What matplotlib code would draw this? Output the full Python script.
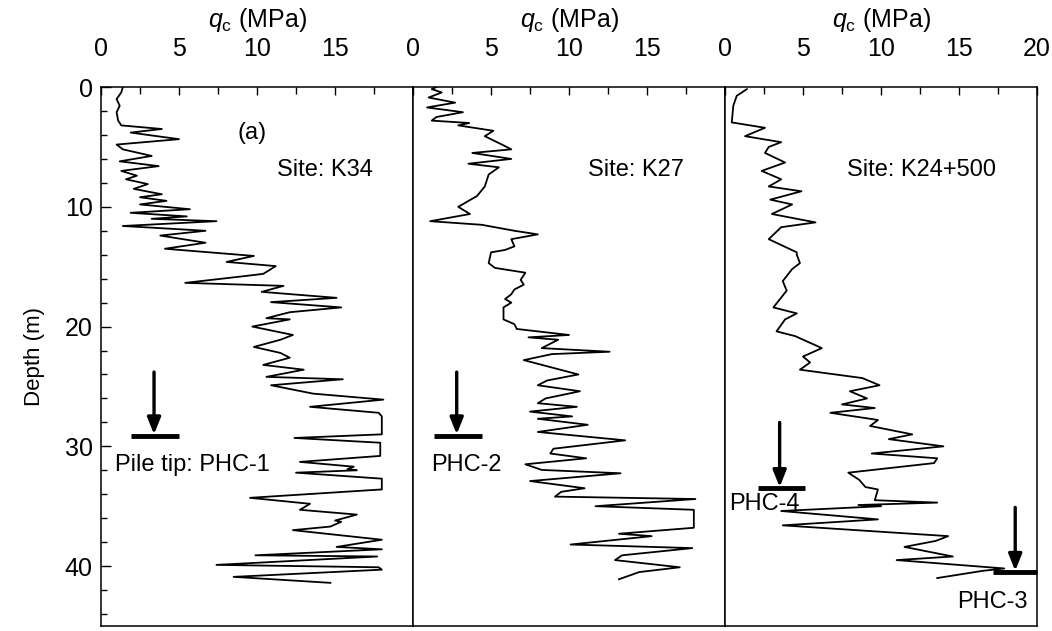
import matplotlib.pyplot as plt
from matplotlib.ticker import MultipleLocator

plt.rcParams['font.family'] = ['Liberation Sans', 'DejaVu Sans']
plt.rcParams['mathtext.fontset'] = 'custom'
plt.rcParams['mathtext.rm'] = 'Liberation Sans'
plt.rcParams['mathtext.it'] = 'Liberation Sans:italic'

# CPT profiles: depth (m) and cone resistance qc (MPa)
k34_depth = [0.0, 0.45, 1.0, 1.56, 2.1, 2.8, 3.2, 3.5, 3.8, 4.35, 4.8, 5.2, 5.75, 6.2, 6.6, 7.0, 7.4, 7.7,
             8.1, 8.5, 8.95, 9.2, 9.5, 9.8, 10.2, 10.5, 10.8, 11.0, 11.2, 11.6, 12.0, 12.4, 13.0, 13.5,
             14.1, 14.6, 14.95, 15.6, 15.8, 16.35, 16.6, 17.1, 17.6, 17.96, 18.4, 18.8, 19.3, 19.4, 20.0,
             20.7, 21.1, 21.7, 22.2, 22.6, 23.2, 23.6, 24.2, 24.4, 24.9, 25.6, 26.1, 26.7, 27.2, 27.5,
             29.0, 29.3, 29.7, 30.8, 31.3, 31.7, 31.9, 32.0, 32.2, 32.7, 33.6, 34.3, 34.8, 35.3, 35.7,
             36.2, 36.3, 36.7, 37.0, 37.8, 38.4, 38.6, 39.1, 39.2, 39.9, 40.1, 40.3, 40.9, 41.4]
k34_qc = [1.4, 1.3, 1.0, 1.2, 1.0, 1.1, 1.3, 3.9, 1.9, 5.0, 1.0, 1.4, 3.25, 1.2, 3.7, 1.3, 2.3, 1.6,
          3.0, 2.1, 3.9, 2.5, 4.2, 2.5, 5.7, 1.9, 5.5, 3.25, 7.4, 1.4, 6.7, 3.8, 6.7, 4.1,
          9.8, 8.05, 11.2, 10.4, 9.1, 5.4, 11.7, 10.3, 15.1, 10.9, 15.4, 12.1, 10.6, 12.1, 9.7,
          12.3, 11.5, 9.8, 11.5, 12.1, 10.4, 13.0, 10.6, 15.5, 10.9, 13.6, 18.1, 13.4, 17.8, 18.0,
          18.0, 12.4, 17.9, 17.9, 12.75, 16.2, 15.8, 16.4, 12.5, 18.0, 18.0, 9.55, 13.4, 12.75, 16.4,
          15.0, 15.4, 14.7, 12.3, 18.0, 15.1, 18.0, 9.9, 17.7, 7.4, 17.8, 18.0, 8.5, 14.7]

k27_depth = [0.0, 0.17, 0.45, 0.87, 1.3, 1.7, 2.1, 2.5, 2.8, 3.0, 3.2, 3.65, 4.1, 4.8, 5.2, 5.5, 6.0,
             6.4, 6.7, 7.3, 8.3, 9.1, 10.0, 10.6, 11.2, 11.5, 12.0, 12.3, 12.7, 13.3, 13.6, 13.8, 14.7,
             15.1, 15.5, 16.1, 16.5, 16.9, 17.3, 17.7, 18.0, 18.4, 19.4, 19.8, 20.2, 20.7, 20.9, 21.1,
             21.8, 22.1, 22.3, 22.8, 24.0, 24.5, 24.9, 25.4, 26.0, 26.4, 26.7, 27.1, 27.5, 27.7, 28.2,
             28.8, 29.5, 30.2, 30.6, 31.0, 31.5, 31.97, 32.25, 32.9, 33.5, 33.8, 34.2, 34.4, 35.0,
             35.3, 36.8, 37.3, 37.5, 38.2, 38.5, 39.1, 39.5, 40.1, 40.5, 41.1]
k27_qc = [1.5, 1.2, 1.84, 1.0, 2.7, 0.9, 3.2, 1.5, 1.2, 3.6, 2.9, 5.15, 4.6, 5.7, 6.3, 3.8, 6.3,
          3.55, 5.5, 4.85, 4.6, 4.1, 2.9, 3.65, 1.1, 4.4, 6.5, 8.0, 6.3, 6.5, 5.9, 5.0, 4.85,
          5.25, 7.2, 6.9, 7.1, 6.5, 6.3, 5.9, 6.3, 5.8, 5.8, 6.5, 6.65, 10.0, 7.4, 9.3,
          8.25, 12.6, 8.9, 7.1, 10.6, 8.6, 8.0, 10.7, 8.5, 8.0, 10.5, 7.5, 10.2, 8.0, 11.2,
          8.0, 13.6, 9.0, 8.8, 11.1, 7.2, 8.25, 13.3, 7.5, 11.0, 9.5, 9.1, 18.1, 11.7,
          18.0, 18.0, 13.2, 15.3, 10.1, 17.9, 13.4, 12.95, 17.1, 14.5, 13.2]

k24_depth = [0.17, 0.73, 1.56, 2.95, 3.4, 4.1, 4.6, 5.0, 5.5, 6.3, 7.0, 7.7, 8.3, 8.7, 9.4, 9.8, 10.6,
             11.3, 11.7, 12.7, 13.8, 14.0, 14.7, 15.2, 16.2, 17.0, 18.4, 18.9, 19.4, 20.4, 20.8, 21.8,
             22.5, 23.0, 23.6, 24.3, 24.9, 25.4, 26.0, 26.5, 26.8, 27.2, 27.8, 28.3, 29.0, 29.4, 30.0,
             30.6, 31.0, 31.4, 32.2, 32.8, 33.4, 33.6, 34.5, 34.7, 34.9, 35.0, 35.4, 36.1, 36.6, 37.5,
             37.9, 38.4, 39.2, 39.5, 40.2, 40.4, 41.0]
k24_qc = [1.4, 0.75, 0.53, 0.43, 2.56, 1.28, 3.6, 2.8, 2.56, 3.85, 2.35, 3.6, 2.8, 4.9, 2.9, 4.3, 3.0,
          5.8, 3.6, 2.8, 4.6, 4.6, 4.8, 4.3, 3.7, 3.95, 3.1, 4.6, 3.85, 3.3, 4.5, 6.2,
          5.0, 5.45, 4.8, 8.8, 9.9, 8.0, 9.1, 7.5, 9.6, 6.75, 9.8, 9.3, 12.0, 10.5, 14.0,
          9.4, 13.6, 13.4, 7.9, 8.6, 9.0, 9.8, 9.6, 13.6, 8.55, 10.0, 3.6, 9.8, 3.7, 14.3,
          13.5, 11.5, 14.6, 11.0, 17.9, 16.5, 13.6]

sites = ['Site: K34', 'Site: K27', 'Site: K24+500']
profiles = [(k34_depth, k34_qc), (k27_depth, k27_qc), (k24_depth, k24_qc)]

# pile tips: (panel, arrow x, arrow top, tip depth, bar from, bar to, label, label x, label depth, align)
piles = [
    (0, 3.4, 23.8, 29.1, 1.9, 5.0, 'Pile tip: PHC-1', 0.9, 31.6, 'left'),
    (1, 2.8, 23.8, 29.1, 1.35, 4.4, 'PHC-2', 1.15, 31.6, 'left'),
    (2, 3.5, 28.0, 33.5, 2.1, 5.1, 'PHC-4', 0.25, 34.8, 'left'),
    (2, 18.6, 35.1, 40.5, 17.2, 20.0, 'PHC-3', 19.4, 43.0, 'right'),
]

fig = plt.figure(figsize=(10.52, 6.31), dpi=100)
w = 0.2966
axes = [fig.add_axes([0.096 + i * w, 0.008, w, 0.854]) for i in range(3)]

for i, ax in enumerate(axes):
    d, q = profiles[i]
    ax.plot(q, d, color='black', lw=1.3)
    ax.set_xlim(0, 20)
    ax.set_ylim(45, 0)
    ax.xaxis.tick_top()
    ax.xaxis.set_label_position('top')
    ax.set_xticks([0, 5, 10, 15, 20] if i == 2 else [0, 5, 10, 15])
    ax.xaxis.set_minor_locator(MultipleLocator(2.5))
    ax.set_xlabel(r'$q_{\rm c}$ (MPa)', fontsize=18, labelpad=7)
    ax.tick_params(axis='x', which='both', direction='in', labelsize=18, pad=19)
    ax.tick_params(axis='x', which='major', length=6, width=1.0)
    ax.tick_params(axis='x', which='minor', length=5, width=1.0)
    for s in ax.spines.values():
        s.set_linewidth(1.1)
    if i == 0:
        ax.set_yticks([0, 10, 20, 30, 40])
        ax.yaxis.set_minor_locator(MultipleLocator(2))
        ax.tick_params(axis='y', which='both', direction='in', labelsize=18, pad=6)
        ax.tick_params(axis='y', which='major', length=7, width=1.0)
        ax.tick_params(axis='y', which='minor', length=4, width=1.0)
        ax.set_ylabel('Depth (m)', fontsize=16, labelpad=14)
    else:
        ax.set_yticks([])
    ax.text(17.4, 6.9, sites[i], fontsize=17, ha='right', va='center')

axes[0].text(9.7, 3.8, '(a)', fontsize=17, ha='center', va='center')

for k, xa, top, tip, b0, b1, label, lx, ly, ha in piles:
    ax = axes[k]
    ax.annotate('', xy=(xa, tip - 0.1), xytext=(xa, top),
                arrowprops=dict(arrowstyle='-|>,head_length=1.0,head_width=0.4',
                                color='black', lw=2.4, shrinkA=0, shrinkB=0))
    ax.plot([b0, b1], [tip, tip], color='black', lw=3.5, solid_capstyle='butt', clip_on=False)
    ax.text(lx, ly, label, fontsize=17, ha=ha, va='center')

fig.savefig('out.png', dpi=100)
